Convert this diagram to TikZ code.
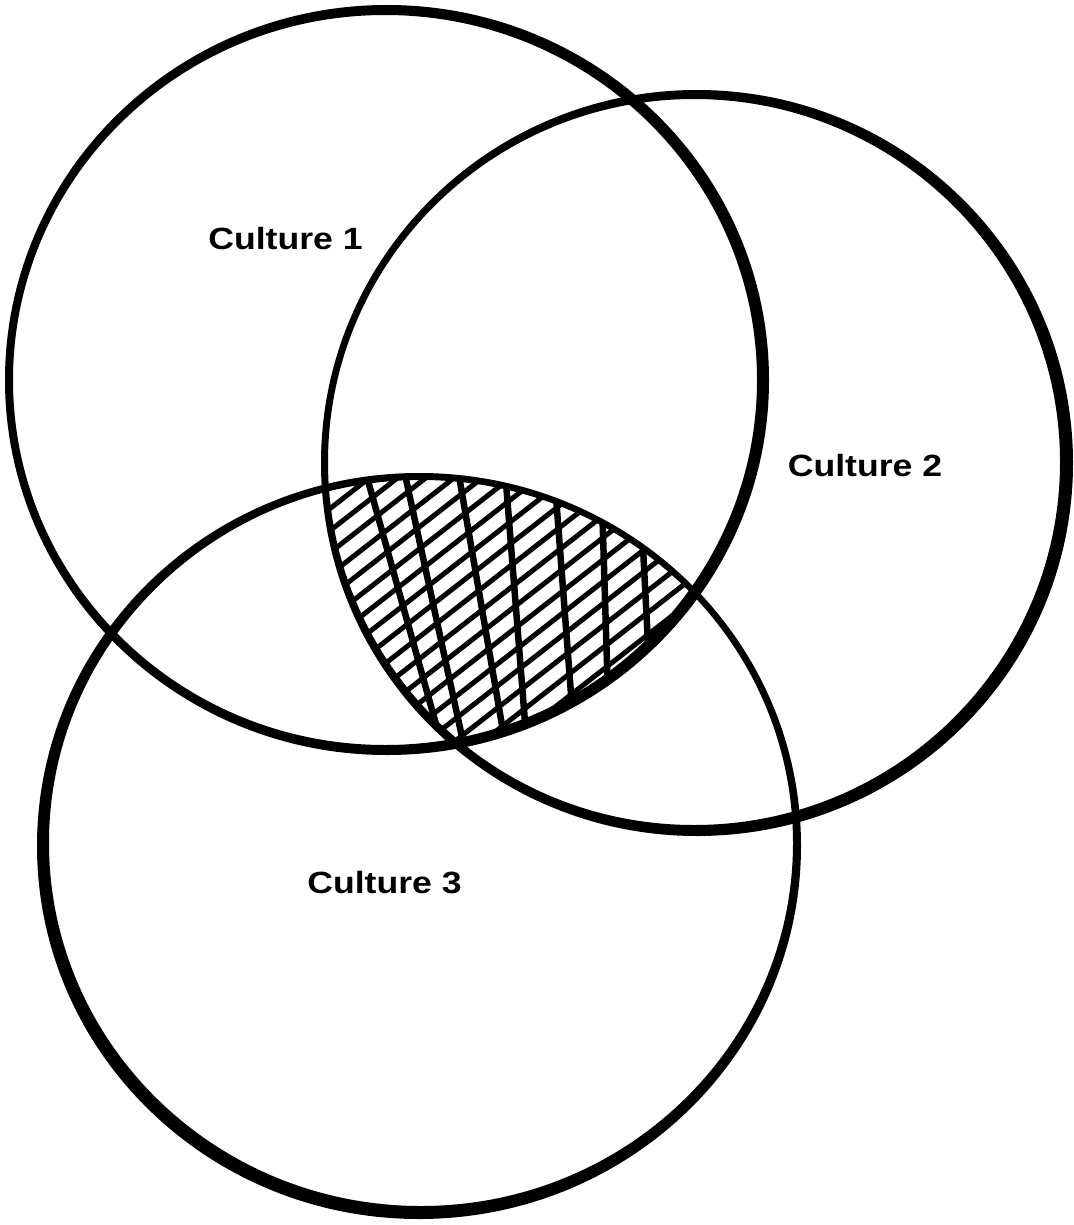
\documentclass[tikz,border=0pt]{standalone}
\usepackage{fontspec}
\setmainfont{Liberation Sans}[FakeStretch=1.16]
\begin{document}
\begin{tikzpicture}[x=1pt,y=-1pt,
  lab/.style={font=\fontsize{30.7}{34}\selectfont\bfseries, inner sep=0pt},
  ring/.style={fill=black, even odd rule},
  hatchd/.style={line width=5pt},
  hatchv/.style={line width=6.5pt}]
\useasboundingbox (0,0) rectangle (1073,1225);
% Culture 1
\fill[ring] (387,380) ellipse [x radius=382, y radius=375]
            (385,380) ellipse [x radius=372, y radius=365];
% Culture 2
\fill[ring] (697,463) ellipse [x radius=376, y radius=373]
            (694,462) ellipse [x radius=366, y radius=363];
% Culture 3
\fill[ring] (419,846) ellipse [x radius=382, y radius=373]
            (421,843) ellipse [x radius=372, y radius=363];
% hatched common region
\begin{scope}
  \clip (385,380) ellipse [x radius=377, y radius=370];
  \clip (694,462) ellipse [x radius=371, y radius=368];
  \clip (421,843) ellipse [x radius=377, y radius=368];
  \foreach \c in {700,722,...,1150}
    \draw[hatchd] (250,{\c-0.78*250}) -- (760,{\c-0.78*760});
  \foreach \a/\b in {365/446, 404/467, 458/508, 505/528, 554/576, 601/610, 639/654}
    \draw[hatchv] (\a,470) -- (\b,760);
\end{scope}
\node[lab] (c1) at (285.5,239) {Culture 1};
\node[lab] (c2) at (865,466) {Culture 2};
\node[lab] (c3) at (384.5,883) {Culture 3};
\end{tikzpicture}
\end{document}
